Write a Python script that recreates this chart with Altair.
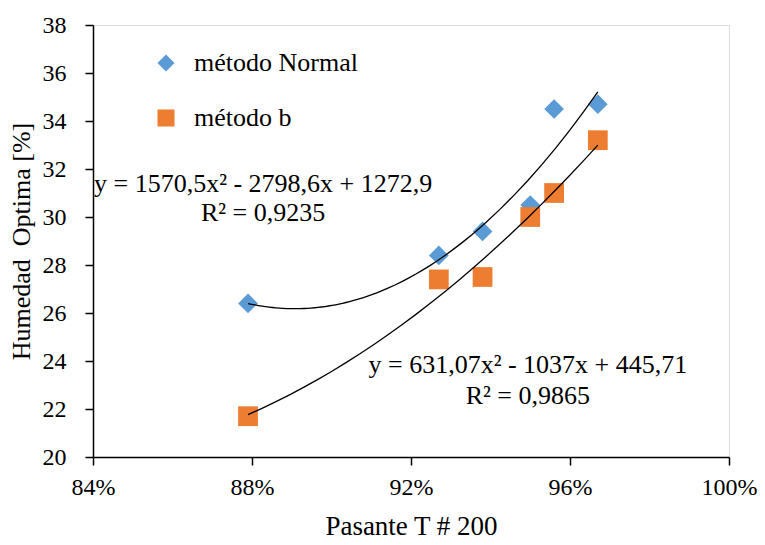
import altair as alt
import pandas as pd

# Data
pasante = [0.879, 0.927, 0.938, 0.950, 0.956, 0.967]
normal = [26.4, 28.4, 29.4, 30.5, 34.5, 34.7]
metodo_b = [21.7, 27.4, 27.5, 30.0, 31.0, 33.2]
series_names = ["método Normal", "método b"]

eq_text = ["y = 1570,5x² - 2798,6x + 1272,9", "R² = 0,9235",
           "y = 631,07x² - 1037x + 445,71", "R² = 0,9865"]
eq_x = [0.8828, 0.8828, 0.9494, 0.9494]
eq_y = [31.37, 30.17, 23.83, 22.55]

x_ticks = [0.84, 0.88, 0.92, 0.96, 1.00]
y_ticks = [20, 22, 24, 26, 28, 30, 32, 34, 36, 38]

rows = []
for xv, yv in zip(pasante, normal):
    rows.append({"x": xv, "y": yv, "serie": series_names[0]})
for xv, yv in zip(pasante, metodo_b):
    rows.append({"x": xv, "y": yv, "serie": series_names[1]})
df = pd.DataFrame(rows)
ann = pd.DataFrame({"x": eq_x, "y": eq_y, "t": eq_text})

FONT = "Liberation Serif"

xscale = alt.Scale(domain=[0.84, 1.0], nice=False, zero=False)
yscale = alt.Scale(domain=[20, 38], nice=False, zero=False)

xenc = alt.X("x:Q", scale=xscale,
             axis=alt.Axis(values=x_ticks, format="%", title="Pasante T # 200",
                           grid=False, tickSize=8, labelPadding=10, titlePadding=14,
                           labelFlush=False,
                           domainColor="black", tickColor="black", domainWidth=1.5,
                           tickWidth=1.5, labelColor="black", titleColor="black",
                           labelFontSize=24, titleFontSize=27, labelFont=FONT,
                           titleFont=FONT, titleFontWeight="normal"))
yenc = alt.Y("y:Q", scale=yscale,
             axis=alt.Axis(values=y_ticks, title="Humedad\u00a0 Optima [%]",
                           grid=False, tickSize=8, labelPadding=19, titlePadding=8,
                           labelFlush=False,
                           domainColor="black", tickColor="black", domainWidth=1.5,
                           tickWidth=1.5, labelColor="black", titleColor="black",
                           labelFontSize=24, titleFontSize=26, labelFont=FONT,
                           titleFont=FONT, titleFontWeight="normal"))

leg = alt.Legend(title=None, orient="none", legendX=60, legendY=25,
                 labelFont=FONT, labelFontSize=26, labelColor="black",
                 labelLimit=400, symbolSize=289, rowPadding=29, labelOffset=15,
                 padding=0, symbolOpacity=1)

points = alt.Chart(df).mark_point(filled=True, opacity=1, size=390).encode(
    x=xenc,
    y=yenc,
    color=alt.Color("serie:N",
                    scale=alt.Scale(domain=series_names, range=["#5B9BD5", "#ED7D31"]),
                    legend=leg),
    shape=alt.Shape("serie:N",
                    scale=alt.Scale(domain=series_names, range=["diamond", "square"]),
                    legend=leg),
)

trend = alt.Chart(df).transform_regression(
    "x", "y", groupby=["serie"], method="poly", order=2
).mark_line(color="black", strokeWidth=1.3).encode(
    x=alt.X("x:Q", scale=xscale),
    y=alt.Y("y:Q", scale=yscale),
    detail="serie:N",
)

labels = alt.Chart(ann).mark_text(font=FONT, fontSize=26, color="black",
                                  align="center", baseline="middle").encode(
    x=alt.X("x:Q", scale=xscale),
    y=alt.Y("y:Q", scale=yscale),
    text="t:N",
)

chart = alt.layer(points, trend, labels).properties(
    width=636, height=432,
    autosize=alt.AutoSizeParams(type="none"),
    padding={"left": 85, "top": 17, "right": 28, "bottom": 88},
).configure_view(stroke="black", strokeWidth=1.5).configure(background="white")

chart.save("out.html", embed_options={"renderer": "svg", "actions": False})
